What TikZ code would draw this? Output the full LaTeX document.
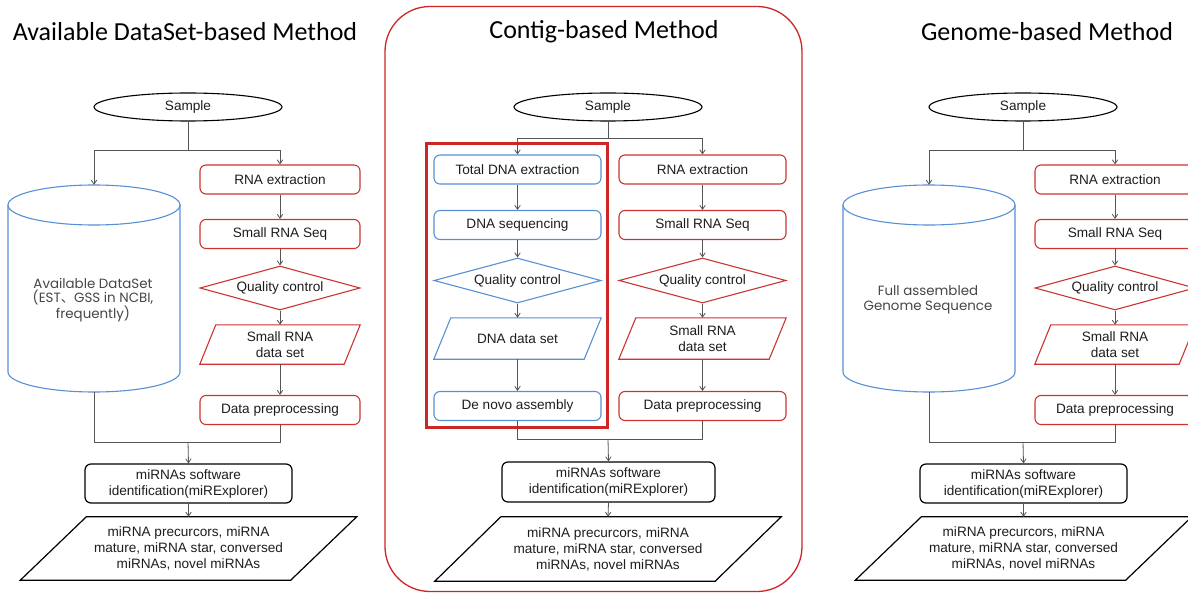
\documentclass[tikz,border=0pt]{standalone}
\usepackage{fontspec}
\setmainfont{Liberation Sans}
\newfontfamily\titlefont{Carlito}
\newfontfamily\cylfont{Poppins}
\newfontfamily\cjkfont{Noto Sans CJK SC}
\usetikzlibrary{shapes.geometric,arrows.meta}
\definecolor{bxred}{RGB}{204,52,52}
\definecolor{bxblue}{RGB}{88,144,214}
\definecolor{frred}{RGB}{205,38,38}
\definecolor{lngray}{RGB}{85,85,85}
\definecolor{txt}{RGB}{30,30,30}
\definecolor{cyltxtc}{RGB}{70,70,70}

\newcommand\parashape[3]{%
  \draw[#3] ([xshift=#2/2]#1.north west) -- ([xshift=#2/2]#1.north east)
    -- ([xshift=-#2/2]#1.south east) -- ([xshift=-#2/2]#1.south west) -- cycle;}

\newcommand\sidepanel[3]{%
\begin{scope}[xshift=#2]
  \node[samp] (#1-sample) at (188,107) {Sample};
  \node[cylbox] (#1-cyl) at (94,288.5) {};
  \draw[cylline] (8,205) -- (8,372) .. controls (8,383) and (46.5,392) .. (94,392)
     .. controls (141.5,392) and (180,383) .. (180,372) -- (180,205);
  \draw[cylline] (94,205) ellipse [x radius=86, y radius=20];
  \node[cyltxt] (#1-cyltext) at (93,300) {#3};
  \node[rbox] (#1-rna) at (280,179.5) {RNA extraction};
  \node[rbox] (#1-srs) at (280,234) {Small RNA Seq};
  \node[rdia] (#1-qc) at (280,288) {Quality control};
  \node[paranode, minimum width=144, minimum height=39] (#1-srd) at (280,344.5) {Small RNA\\data set};
  \parashape{#1-srd}{16}{redline}
  \node[rbox] (#1-dp) at (280,410) {Data preprocessing};
  \node[kbox, minimum width=207, minimum height=39] (#1-mir) at (188.5,483.5) {miRNAs software\\identification(miRExplorer)};
  \node[paranode, minimum width=270, minimum height=63] (#1-out) at (188.5,548.5) {miRNA precurcors, miRNA\\mature, miRNA star, conversed\\miRNAs, novel miRNAs};
  \parashape{#1-out}{66}{blackline}
  \coordinate (#1-br) at (188,150);
  \coordinate (#1-jn) at (188,442);
  \draw[ln] (#1-sample.south) -- (#1-br);
  \draw[arr] (#1-br) -| (#1-cyl.north);
  \draw[arr] (#1-br) -| (#1-rna.north);
  \draw[arr] (#1-rna.south) -- (#1-srs.north);
  \draw[arr] (#1-srs.south) -- (#1-qc.north);
  \draw[arr] (#1-qc.south) -- (#1-srd.north);
  \draw[arr] (#1-srd.south) -- (#1-dp.north);
  \draw[ln] (#1-cyl.south) |- (#1-jn);
  \draw[ln] (#1-dp.south) |- (#1-jn);
  \draw[arr] (#1-jn) -- (#1-mir.north);
  \draw[arr] (#1-mir.south) -- (#1-out.north);
\end{scope}}

\begin{document}
\begin{tikzpicture}[x=1pt,y=-1pt,
  every node/.style={font=\fontsize{13.6}{16}\selectfont, text=txt, inner sep=0pt, align=center},
  ttl/.style={font=\titlefont\fontsize{26}{30}\selectfont, text=black},
  samp/.style={ellipse, draw=black, line width=1.1pt, minimum width=188, minimum height=28},
  rbox/.style={rectangle, rounded corners=6pt, draw=bxred, line width=1.1pt, minimum width=160, minimum height=29},
  bbox/.style={rectangle, rounded corners=6pt, draw=bxblue, line width=1.1pt, minimum width=167, minimum height=29},
  kbox/.style={rectangle, rounded corners=6pt, draw=black, line width=1.2pt},
  rdia/.style={diamond, draw=bxred, line width=1.1pt, minimum width=160, minimum height=44, aspect=3.6},
  bdia/.style={diamond, draw=bxblue, line width=1.1pt, minimum width=167, minimum height=45, aspect=3.6},
  paranode/.style={rectangle},
  redline/.style={draw=bxred, line width=1.1pt},
  blueline/.style={draw=bxblue, line width=1.1pt},
  blackline/.style={draw=black, line width=1.2pt},
  cylbox/.style={rectangle, minimum width=172, minimum height=207},
  cylline/.style={draw=bxblue, line width=1.1pt},
  cyltxt/.style={font=\cylfont\fontsize{13.4}{14.5}\selectfont, text=cyltxtc},
  ln/.style={draw=lngray, line width=0.8pt},
  arr/.style={draw=lngray, line width=0.8pt, -{Straight Barb[length=4pt,width=5.5pt]}},
]
\clip (0,0) rectangle (1188,596);
\fill[white] (0,0) rectangle (1188,596);

% titles
\node[ttl] (L-title) at (185,32) {Available DataSet-based Method};
\node[ttl] (C-title) at (604,32) {Contig-based Method};
\node[ttl] (R-title) at (1047,32) {Genome-based Method};

% side panels
\sidepanel{L}{0}{Available DataSet\\(EST{\cjkfont 、}GSS in NCBI,\\frequently)}
\sidepanel{R}{835}{Full assembled\\Genome Sequence}

% center panel
\node[draw=frred, line width=1.3pt, rounded corners=45pt, minimum width=417, minimum height=585] (C-frame) at (593.5,299) {};
\node[draw=frred, line width=3pt, minimum width=181, minimum height=283] (C-redbox) at (516.5,285.5) {};
\node[samp] (C-sample) at (608,107) {Sample};
\node[bbox] (C-tde) at (517.5,169.5) {Total DNA extraction};
\node[rbox, minimum width=167] (C-rna) at (702.5,169.5) {RNA extraction};
\node[bbox] (C-dseq) at (517.5,225) {DNA sequencing};
\node[rbox, minimum width=167] (C-srs) at (702.5,225) {Small RNA Seq};
\node[bdia] (C-qcb) at (517.5,280.5) {Quality control};
\node[rdia, minimum width=167, minimum height=45] (C-qcr) at (702.5,280.5) {Quality control};
\node[paranode, minimum width=150, minimum height=41] (C-dds) at (517.5,338.5) {DNA data set};
\parashape{C-dds}{17}{blueline}
\node[paranode, minimum width=150, minimum height=41] (C-srd) at (702.5,338.5) {Small RNA\\data set};
\parashape{C-srd}{17}{redline}
\node[bbox] (C-dna) at (517.5,406) {De novo assembly};
\node[rbox, minimum width=167] (C-dp) at (702.5,406) {Data preprocessing};
\node[kbox, minimum width=213, minimum height=40] (C-mir) at (608.5,482) {miRNAs software\\identification(miRExplorer)};
\node[paranode, minimum width=280, minimum height=64] (C-out) at (608,549) {miRNA precurcors, miRNA\\mature, miRNA star, conversed\\miRNAs, novel miRNAs};
\parashape{C-out}{66}{blackline}
\coordinate (C-br) at (608,138);
\coordinate (C-jn) at (608,439);
\draw[ln] (C-sample.south) -- (C-br);
\draw[arr] (C-br) -| (C-tde.north);
\draw[arr] (C-br) -| (C-rna.north);
\draw[arr] (C-tde.south) -- (C-dseq.north);
\draw[arr] (C-dseq.south) -- (C-qcb.north);
\draw[arr] (C-qcb.south) -- (C-dds.north);
\draw[arr] (C-dds.south) -- (C-dna.north);
\draw[arr] (C-rna.south) -- (C-srs.north);
\draw[arr] (C-srs.south) -- (C-qcr.north);
\draw[arr] (C-qcr.south) -- (C-srd.north);
\draw[arr] (C-srd.south) -- (C-dp.north);
\draw[ln] (C-dna.south) |- (C-jn);
\draw[ln] (C-dp.south) |- (C-jn);
\draw[arr] (C-jn) -- (C-mir.north);
\draw[arr] (C-mir.south) -- (C-out.north);
\end{tikzpicture}
\end{document}
